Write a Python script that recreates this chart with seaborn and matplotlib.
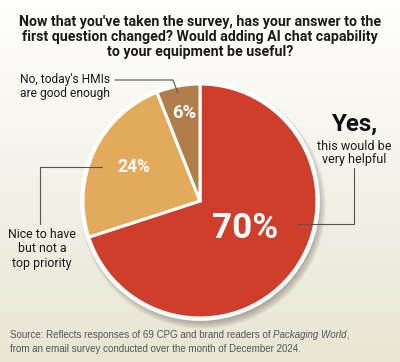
import numpy as np
import matplotlib
matplotlib.use("Agg")
import matplotlib.pyplot as plt
import seaborn as sns
from matplotlib.patches import Circle

sns.set_theme(style="white")
plt.rcParams['font.family'] = ['Roboto', 'DejaVu Sans']

# data
answers = ["Yes, this would be very helpful", "Nice to have but not a top priority",
           "No, today's HMIs are good enough"]
shares = [70, 24, 6]
slice_colors = ["#CF3E2A", "#E4AA5C", "#B17E4B"]

title_lines = ["Now that you've taken the survey, has your answer to the",
               "first question changed? Would adding AI chat capability",
               "to your equipment be useful?"]

W, H = 400, 362
fig = plt.figure(figsize=(W / 100, H / 100), dpi=100)
ax = fig.add_axes([0, 0, 1, 1])
renderer = fig.canvas.get_renderer()


def fit(texts, width):
    # scale a group of text lines so the widest one spans `width` pixels
    widest = max(t.get_window_extent(renderer).width for t in texts)
    for t in texts:
        t.set_fontsize(t.get_fontsize() * width / widest)


def block(x, ys, lines, width, **kw):
    ts = [ax.text(x, H - y, s, ha="center", va="center", fontsize=10, zorder=4, **kw)
          for y, s in zip(ys, lines)]
    fit(ts, width)
    return ts


# background gradient, white at top to beige at bottom
grad = np.linspace(0, 1, 256)[:, None]
top = np.array([1.0, 1.0, 1.0])
bot = np.array([0.91, 0.90, 0.83])
img = top * (1 - grad[..., None]) + bot * grad[..., None]
img = np.repeat(img, 2, axis=1)
ax.imshow(img, extent=[0, W, 0, H], aspect="auto", origin="upper", zorder=0)

cx, cy, r = 200, H - 201, 117

# soft drop shadow, down and to the right
for i in range(16):
    ax.add_patch(Circle((cx + 3, cy - 5), r + 6 - i * 0.7, color="#5f5a4c",
                        alpha=0.045, lw=0, zorder=1))

wedges, _ = ax.pie(shares, colors=slice_colors, startangle=90, counterclock=False,
                   center=(cx, cy), radius=r, frame=True,
                   wedgeprops=dict(edgecolor="white", linewidth=2.2))
for w in wedges:
    w.set_zorder(2)
ax.add_patch(Circle((cx, cy), r + 1.5, fill=False, ec="white", lw=2, zorder=3))
ax.set_xlim(0, W)
ax.set_ylim(0, H)
ax.set_aspect("equal")
ax.axis("off")

# percentage labels
block(245, [228], [f"{shares[0]}%"], 66, color="white", fontweight="bold")
block(134, [167], [f"{shares[1]}%"], 33, color="white", fontweight="bold")
block(184, [113], [f"{shares[2]}%"], 24, color="white", fontweight="bold")

# title
block(200, [22, 37, 52], title_lines, 360, color="#1a1a1a", fontweight="bold")

line_kw = dict(color="#555555", lw=0.8, zorder=4)
# "No" callout
ax.plot([115, 173, 178], [H - 80, H - 80, H - 93], **line_kw)
block(65, [80, 94], ["No, today's HMIs", "are good enough"], 90, color="#1a1a1a")
# "Nice to have" callout
ax.plot([102, 40, 40], [H - 167, H - 167, H - 224], **line_kw)
block(42, [234, 249, 263], ["Nice to have", "but not a", "top priority"], 68, color="#1a1a1a")
# "Yes" callout
ax.plot([298, 354, 354], [H - 224, H - 224, H - 168], **line_kw)
block(354, [124], ["Yes,"], 46, color="#111111", fontweight="bold")
block(354, [146, 160], ["this would be", "very helpful"], 74, color="#1a1a1a")

# source note
src_kw = dict(fontsize=7, color="#555555", va="center",
              family=['Liberation Sans', 'DejaVu Sans'], zorder=4)
t1 = ax.text(10, H - 335, "Source: Reflects responses of 69 CPG and brand readers of ",
             ha="left", **src_kw)
t2 = ax.annotate("Packaging World", xy=(1, 0.5), xycoords=t1, ha="left",
                 style="italic", **src_kw)
ax.annotate(",", xy=(1, 0.5), xycoords=t2, xytext=(-0.3, 0), textcoords="offset points",
            ha="left", **src_kw)
ax.text(10, H - 349, "from an email survey conducted over the month of December 2024.",
        ha="left", **src_kw)

fig.savefig("out.png", dpi=100)
